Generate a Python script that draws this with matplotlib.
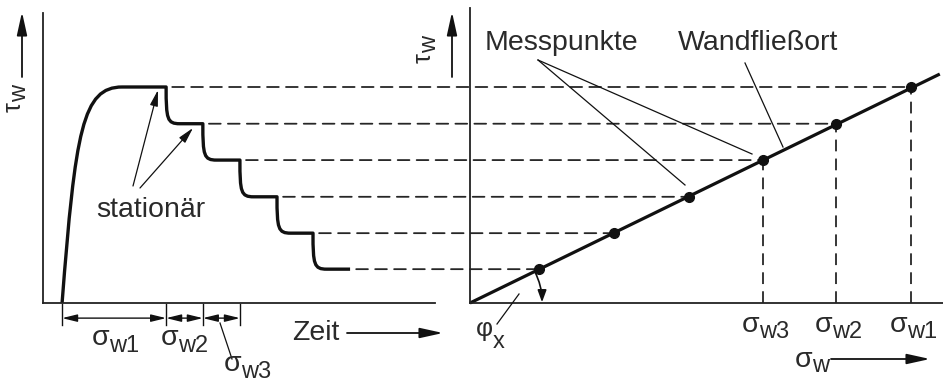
import numpy as np
import matplotlib.pyplot as plt
from matplotlib.path import Path
from matplotlib.patches import PathPatch, ConnectionPatch, FancyArrowPatch
from matplotlib.transforms import Affine2D

plt.rcParams['font.family'] = ['Liberation Sans', 'DejaVu Sans']

W, H = 943, 385
U = 36.0          # pixels per unit, same on both panels
INK = '#111111'
TXT = '#2a2a2a'
FS = 20.5
FS_SUB = 17

# shear test: stationary wall shear stress for each normal load step
tau_w = [6.0, 4.98, 3.97, 2.95, 1.94, 0.94]
t_start = 0.53
t_plateau = 2.2
t_drop = [3.42, 4.44, 5.47, 6.5, 7.5]
t_end = 8.53

# wall yield locus: normal stress belonging to each stationary value
sigma_w = [12.25, 10.17, 8.14, 6.08, 4.0, 1.92]
locus_end = (13.05, 6.36)
sigma_names = ['w1', 'w2', 'w3']

fig = plt.figure(figsize=(W / 100, H / 100), dpi=100)
fig.patch.set_facecolor('white')
pix = Affine2D().scale(1 / W, -1 / H).translate(0, 1) + fig.transFigure


def place(x0, y0, x1, y1):
    # axes rectangle given by pixel corners (left, top, right, bottom)
    return fig.add_axes([x0 / W, 1 - y1 / H, (x1 - x0) / W, (y1 - y0) / H])


ax1 = place(43, 13, 435, 303)
ax2 = place(470, 8, 943, 303)
for ax, (x0, y0, x1, y1) in ((ax1, (43, 13, 435, 303)), (ax2, (470, 8, 943, 303))):
    ax.set_xlim(0, (x1 - x0) / U)
    ax.set_ylim(0, (y1 - y0) / U)
    ax.patch.set_visible(False)
    for s in ('top', 'right'):
        ax.spines[s].set_visible(False)
    for s in ('left', 'bottom'):
        ax.spines[s].set_linewidth(1.3)
        ax.spines[s].set_color('#222222')
    ax.set_xticks([])
    ax.set_yticks([])


def sym(xs, yb, base, sub, drop, rot=0, size=20.5):
    # symbol with a large, lowered index; xs/yb = split point and baseline
    kw = dict(color=TXT, va='baseline', transform=pix)
    if rot:
        fig.text(yb, xs, base, ha='right', rotation=90, rotation_mode='anchor',
                 fontsize=size, **kw)
        fig.text(yb + drop, xs, sub, ha='left', rotation=90, rotation_mode='anchor',
                 fontsize=FS_SUB, **kw)
    else:
        fig.text(xs, yb, base, ha='right', fontsize=size, **kw)
        fig.text(xs, yb + drop, sub, ha='left', fontsize=FS_SUB, **kw)


# left panel: shear stress over time
verts = [(t_start, 0), (0.9, 4.8), (1.1, tau_w[0]), (t_plateau, tau_w[0]),
         (t_drop[0], tau_w[0])]
codes = [Path.MOVETO, Path.CURVE4, Path.CURVE4, Path.CURVE4, Path.LINETO]
ends = t_drop[1:] + [t_end]
for i, t in enumerate(t_drop):
    b = tau_w[i + 1]
    verts += [(t, b + 0.12), (t + 0.03, b), (t + 0.38, b), (ends[i], b)]
    codes += [Path.CURVE4, Path.CURVE4, Path.CURVE4, Path.LINETO]
ax1.add_patch(PathPatch(Path(verts, codes), fill=False, lw=2.4,
                        color=INK, capstyle='butt', joinstyle='round'))

# dashed connectors from each plateau to its measuring point
dash = (0, (6.5, 4.0))
for t, tau, sig in zip([t_drop[0]] + ends, tau_w, sigma_w):
    cp = ConnectionPatch(xyA=(t + 0.17, tau), coordsA=ax1.transData,
                         xyB=(sig, tau), coordsB=ax2.transData,
                         lw=1.3, color='#262626', linestyle=dash, zorder=-1)
    fig.add_artist(cp)

# right panel: wall yield locus
ax2.plot([0, locus_end[0]], [0, locus_end[1]], color=INK, lw=2.3,
         solid_capstyle='butt', clip_on=False)
ax2.plot(sigma_w, tau_w, 'o', color=INK, ms=7, zorder=4)
for sig, tau in zip(sigma_w[:3], tau_w[:3]):
    ax2.plot([sig, sig], [0, tau], color='#262626', lw=1.3, linestyle=dash)
for sig, name in zip(sigma_w[:3], sigma_names):
    xs = 470 + sig * U - 4
    sym(xs, 332, 'σ', name, 6)

# angle of the wall yield locus
ang = np.arctan2(locus_end[1], locus_end[0])
r = 2.0
ax2.add_patch(FancyArrowPatch((r * np.cos(ang), r * np.sin(ang)), (r, 0.02),
                              connectionstyle='arc3,rad=-0.12',
                              arrowstyle='-|>,head_length=0.6,head_width=0.22',
                              mutation_scale=12, lw=1.2, color=INK,
                              shrinkA=0, shrinkB=0, clip_on=False))
fig.add_artist(plt.Line2D([497, 519], [324, 294], transform=pix, lw=0.9, color=INK))
sym(493, 336, 'φ', 'x', 12, size=19)

# dimension lines for the time spent at each load
marks = [t_start] + t_drop[:3]
for t in marks:
    ax1.plot([t, t], [-0.03, -0.62], color=INK, lw=1.0, clip_on=False)
for a, b in zip(marks[:-1], marks[1:]):
    ax1.annotate('', xy=(b, -0.42), xytext=(a, -0.42), annotation_clip=False,
                 arrowprops=dict(arrowstyle='<|-|>,head_length=0.9,head_width=0.22',
                                 mutation_scale=10, lw=1.0, color=INK,
                                 shrinkA=0, shrinkB=0))
sym(109, 345, 'σ', 'w1', 7)
sym(178, 345, 'σ', 'w2', 7)
fig.add_artist(plt.Line2D([220, 232], [323, 359], transform=pix, lw=0.9, color=INK))
sym(241, 371, 'σ', 'w3', 7)


def arrow(x0, y0, x1, y1):
    fig.add_artist(FancyArrowPatch((x0, y0), (x1, y1), transform=pix,
                                   arrowstyle='-|>,head_length=1.0,head_width=0.22',
                                   mutation_scale=14, lw=1.3, color=INK,
                                   shrinkA=0, shrinkB=0))


def label(x, y, s):
    fig.text(x / W, 1 - y / H, s, ha='center', va='center', fontsize=FS, color=TXT)


# axis captions
sym(102, 21, 'τ', 'w', 5, rot=90, size=18)
arrow(22, 77, 22, 12)
sym(53, 431, 'τ', 'w', 5, rot=90, size=18)
arrow(452, 77, 452, 12)
label(316, 333, 'Zeit')
arrow(347, 333, 443, 333)
sym(812, 367, 'σ', 'w', 5)
arrow(831, 359, 930, 359)

# annotations
label(151, 210, 'stationär')
for tip in ((158, 90), (193, 128)):
    tail = (133, 186) if tip[0] < 170 else (140, 188)
    fig.add_artist(FancyArrowPatch(tail, tip, transform=pix,
                                   arrowstyle='-|>,head_length=0.8,head_width=0.2',
                                   mutation_scale=12, lw=0.9, color=INK,
                                   shrinkA=0, shrinkB=0))
label(561, 43, 'Messpunkte')
fig.add_artist(plt.Line2D([538, 685], [60, 185], transform=pix, lw=0.9, color=INK))
fig.add_artist(plt.Line2D([538, 752], [60, 154], transform=pix, lw=0.9, color=INK))
label(758, 43, 'Wandfließort')
fig.add_artist(plt.Line2D([745, 783], [63, 147], transform=pix, lw=0.9, color=INK))

fig.savefig('out.png', dpi=100)
